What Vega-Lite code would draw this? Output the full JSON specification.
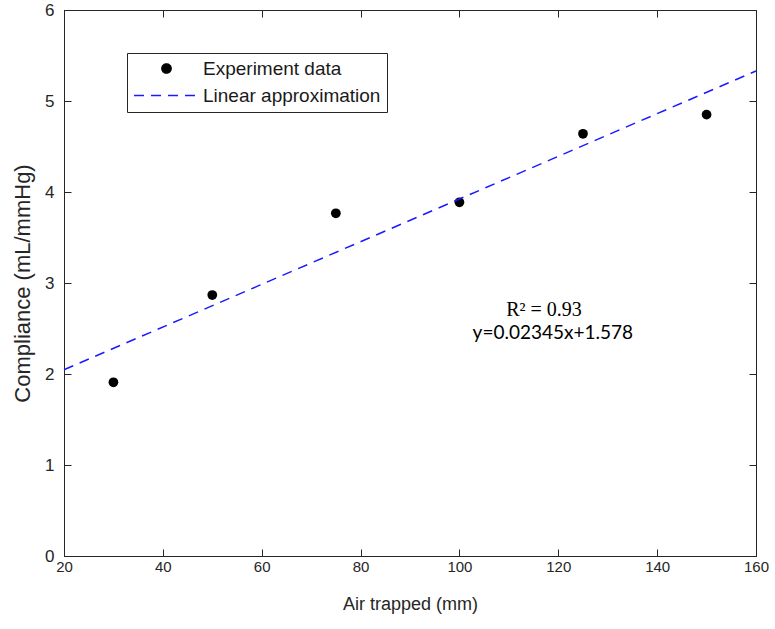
{
  "$schema": "https://vega.github.io/schema/vega-lite/v6.json",
  "width": 692,
  "height": 546,
  "autosize": {"type": "none"},
  "padding": {"left": 64, "top": 10, "right": 19, "bottom": 73},
  "background": "white",
  "config": {
    "view": {"stroke": "#262626", "strokeWidth": 1},
    "axis": {
      "grid": false,
      "domainColor": "#262626",
      "domainWidth": 1,
      "tickColor": "#262626",
      "tickSize": -7,
      "tickWidth": 1,
      "labelColor": "#262626",
      "labelFont": "Liberation Sans",
      "labelFlush": false,
      "labelOverlap": false,
      "titleFont": "Liberation Sans",
      "titleColor": "#262626",
      "titleFontWeight": "normal"
    }
  },
  "resolve": {"axis": {"x": "independent", "y": "independent"}},
  "layer": [
    {
      "data": {"values": [
        {"air": 30, "compliance": 1.909, "series": "Experiment data"},
        {"air": 50, "compliance": 2.868, "series": "Experiment data"},
        {"air": 75, "compliance": 3.766, "series": "Experiment data"},
        {"air": 100, "compliance": 3.887, "series": "Experiment data"},
        {"air": 125, "compliance": 4.64, "series": "Experiment data"},
        {"air": 150, "compliance": 4.85, "series": "Experiment data"}
      ]},
      "mark": {"type": "point", "filled": true, "size": 95, "opacity": 1},
      "encoding": {
        "x": {
          "field": "air", "type": "quantitative",
          "scale": {"domain": [20, 160], "nice": false, "zero": false},
          "axis": {
            "orient": "bottom",
            "values": [20, 40, 60, 80, 100, 120, 140, 160],
            "title": "Air trapped (mm)",
            "titleFontSize": 18,
            "titlePadding": 21,
            "labelFontSize": 15,
            "labelPadding": 10
          }
        },
        "y": {
          "field": "compliance", "type": "quantitative",
          "scale": {"domain": [0, 6], "nice": false, "zero": false},
          "axis": {
            "orient": "left",
            "values": [0, 1, 2, 3, 4, 5, 6],
            "title": "Compliance (mL/mmHg)",
            "titleFontSize": 22,
            "titlePadding": 10,
            "labelFontSize": 17,
            "labelPadding": 17
          }
        },
        "color": {
          "field": "series", "type": "nominal",
          "scale": {"domain": ["Experiment data", "Linear approximation"], "range": ["black", "#1a1aff"]},
          "legend": {
            "title": null,
            "orient": "none",
            "legendX": 63,
            "legendY": 43,
            "direction": "vertical",
            "fillColor": "white",
            "strokeColor": "#262626",
            "padding": 6,
            "labelFont": "Liberation Sans",
            "labelFontSize": 19,
            "labelLimit": 400,
            "labelColor": "#1a1a1a",
            "labelOffset": 27,
            "symbolOffset": 24,
            "rowPadding": 7,
            "symbolType": {"expr": "datum.value === 'Experiment data' ? 'circle' : 'M-6.5,0H6.5'"},
            "symbolSize": {"expr": "datum.value === 'Experiment data' ? 85 : 100"},
            "symbolFillColor": {"expr": "datum.value === 'Experiment data' ? 'black' : 'transparent'"},
            "symbolStrokeColor": {"expr": "datum.value === 'Experiment data' ? 'transparent' : '#1a1aff'"},
            "symbolDash": {"expr": "datum.value === 'Experiment data' ? [1, 0] : [10, 7]"},
            "symbolStrokeWidth": 1.5,
            "symbolOpacity": 1
          }
        }
      }
    },
    {
      "data": {"values": [
        {"air": 20, "compliance": 2.047, "series": "Linear approximation"},
        {"air": 160, "compliance": 5.33, "series": "Linear approximation"}
      ]},
      "mark": {"type": "line", "strokeDash": [10, 7], "strokeWidth": 1.5},
      "encoding": {
        "x": {
          "field": "air", "type": "quantitative",
          "axis": {"orient": "top", "values": [20, 40, 60, 80, 100, 120, 140, 160], "labels": false, "title": null}
        },
        "y": {
          "field": "compliance", "type": "quantitative",
          "axis": {"orient": "right", "values": [0, 1, 2, 3, 4, 5, 6], "labels": false, "title": null}
        },
        "color": {"field": "series", "type": "nominal"}
      }
    },
    {
      "data": {"values": [{"air": 117.1, "compliance": 2.7, "label": "R² = 0.93"}]},
      "mark": {"type": "text", "font": "Liberation Serif", "fontSize": 20, "color": "black", "align": "center", "baseline": "middle"},
      "encoding": {
        "x": {"field": "air", "type": "quantitative", "axis": null},
        "y": {"field": "compliance", "type": "quantitative", "axis": null},
        "text": {"field": "label"}
      }
    },
    {
      "data": {"values": [{"air": 118.9, "compliance": 2.45, "label": "y=0.02345x+1.578"}]},
      "mark": {"type": "text", "font": "Lato", "fontSize": 19, "color": "black", "align": "center", "baseline": "middle"},
      "encoding": {
        "x": {"field": "air", "type": "quantitative", "axis": null},
        "y": {"field": "compliance", "type": "quantitative", "axis": null},
        "text": {"field": "label"}
      }
    }
  ]
}
